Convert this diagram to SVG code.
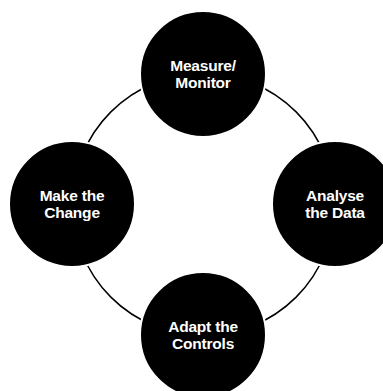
<svg xmlns="http://www.w3.org/2000/svg" width="383" height="391" viewBox="0 0 383 391">
<style>
.node circle{fill:#000;stroke:#fff;stroke-width:2}
.node text{fill:#fff;font-family:"Liberation Sans",Arial,sans-serif;font-weight:bold;font-size:15.5px;text-anchor:middle;letter-spacing:-0.2px}
.ring{fill:none;stroke:#000;stroke-width:1.5}
</style>
<rect width="383" height="391" fill="#fff"/>
<g id="connectors">
<circle class="ring" cx="203.5" cy="204.5" r="131"/>
</g>
<g id="measure" class="node">
<circle cx="203" cy="74" r="63"/>
<text x="203" y="70.5">Measure/</text>
<text x="203" y="87.5">Monitor</text>
</g>
<g id="make" class="node">
<circle cx="72" cy="204" r="63"/>
<text x="72" y="200.5">Make the</text>
<text x="72" y="217.5">Change</text>
</g>
<g id="analyse" class="node">
<circle cx="335" cy="204" r="63"/>
<text x="335" y="200.5">Analyse</text>
<text x="335" y="217.5">the Data</text>
</g>
<g id="adapt" class="node">
<circle cx="203" cy="335" r="63"/>
<text x="203" y="331.5">Adapt the</text>
<text x="203" y="348.5">Controls</text>
</g>
</svg>
